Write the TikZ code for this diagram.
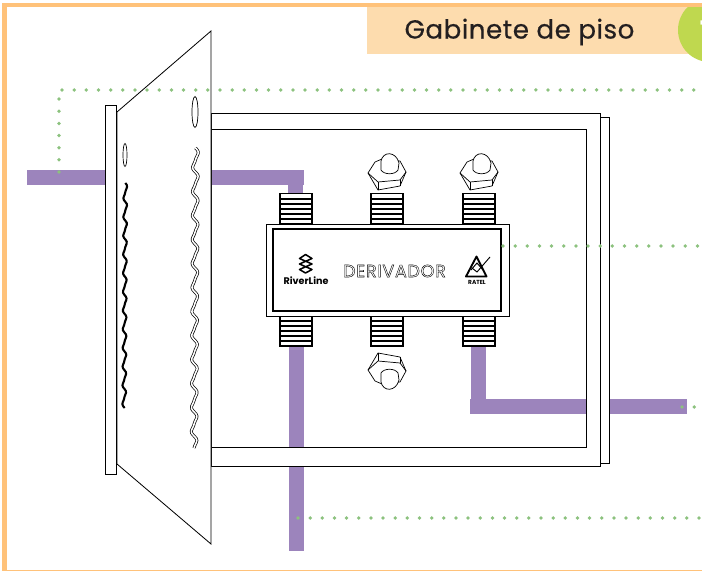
\documentclass[tikz,border=0pt]{standalone}
\usepackage{fontspec}
\setmainfont{Poppins}
\definecolor{orangeline}{HTML}{FFC27A}
\definecolor{titleback}{HTML}{FDDCAE}
\definecolor{tabgreen}{HTML}{BFD84F}
\definecolor{cablepurple}{HTML}{9C84BC}
\definecolor{dotgreen}{HTML}{8CC27E}
\definecolor{titletext}{HTML}{231F20}
\tikzset{
  cable/.style={fill=cablepurple,draw=none},
  dotline/.style={dotgreen,line width=3.2pt,line cap=round,dash pattern=on 0pt off 10.37pt},
  plate/.style={draw=black,fill=white,line width=0.7pt},
  thread/.style={draw=black,line width=1.2pt,fill=white},
  slotline/.style={draw=black,line width=0.6pt,double=white,double distance=1.3pt}
}
\begin{document}
\begin{tikzpicture}[x=0.03cm,y=-0.03cm]
  \useasboundingbox (0,0) rectangle (702,571);
  \begin{scope}
  \clip (0,0) rectangle (702,571);
  % border and title
  \fill[white] (0,0) rectangle (702,571);
  \fill[titleback] (367,7) rectangle (702,54);
  \fill[tabgreen] (710,30) circle (32);
  \fill[orangeline] (2,3) rectangle (702,7);
  \fill[white] (0,0) rectangle (702,3);
  \fill[orangeline] (2,3) rectangle (7,571);
  \fill[orangeline] (2,569.5) rectangle (702,571);
  \node[white,font=\fontsize{23}{23}\selectfont\bfseries] (tabnum) at (705,31) {1};
  \node[titletext,font=\fontsize{22.3}{24}\selectfont\addfontfeature{LetterSpace=2,FakeBold=0.5}] (title) at (519.5,32) {Gabinete de piso};
  % cables
  \fill[cable] (27,170) rectangle (304,185);
  \fill[cable] (288,170) rectangle (303,200);
  \fill[cable] (289,340) rectangle (304,551);
  \fill[cable] (471,340) rectangle (486,414);
  \fill[cable] (470,399) rectangle (687,414);
  % cabinet
  \draw[plate,even odd rule] (211,113) rectangle (600,466) (211,129) rectangle (586,447);
  \draw[plate] (600,117) rectangle (609,463);
  % door
  \draw[plate] (105,105) rectangle (116,474);
  \draw[plate] (117,112) -- (211,31) -- (211,544) -- (117,464) -- cycle;
  \draw[line width=1.2pt] (116.5,112) -- (116.5,464);
  \draw[line width=0.6pt] (125,155) ellipse (2 and 11.5);
  \draw[line width=0.6pt] (195,112) ellipse (3 and 15.5);
  \draw[line width=1.8pt,domain=183:408,samples=120,variable=\t,smooth] plot ({125.3-0.005*(\t-183)+1.6*sin((\t-183)/18.7*360)+0.5*sin((\t-183)/18.7*720)},\t);
  \draw[slotline,domain=148:448,samples=160,variable=\t,smooth] plot ({195.5-0.005*(\t-148)+2.5*sin((\t-148)/24*360)+0.7*sin((\t-148)/24*720)},\t);
  % threads
  \foreach \x in {280,371,463} {
    \draw[thread] (\x,193.5) rectangle (\x+32,224);
    \draw[thread] (\x,316) rectangle (\x+32,346);
    \foreach \y in {199,204,209,214,219} \draw[line width=1.4pt] (\x,\y) -- (\x+32,\y);
    \foreach \y in {321,326,331,336,341} \draw[line width=1.4pt] (\x,\y) -- (\x+32,\y);
  }
  % nuts
  \foreach \x/\y/\s in {387/172/1,479/172/1,387/371/-1} {
    \begin{scope}[shift={(\x,\y)},yscale=\s]
      \draw[plate,line width=0.6pt,line join=round] (-19,1) -- (-12,-10) -- (-5,-13) -- (13,-11) -- (19,0) -- (13,14) -- (-9,18) -- cycle;
      \draw[line width=0.6pt] (-19,1) -- (-9,10) -- (13,8) -- (19,0);
      \draw[line width=0.6pt] (-9,10) -- (-9,18);
      \draw[line width=0.6pt] (13,8) -- (13,14);
      \draw[plate,line width=0.6pt] (-6,-2) -- (-6,-11) .. controls (-4,-21) and (9,-21) .. (12,-9) -- (11,-2) .. controls (8,3) and (-3,3) .. (-6,-2) -- cycle;
    \end{scope}
  }
  % splitter body
  \draw[plate,line width=0.8pt] (266,224) rectangle (509,316);
  \draw[plate,line width=1.1pt] (273,229) rectangle (501,311);
  \node[font=\fontsize{15}{16}\selectfont\addfontfeature{LetterSpace=4}] (devname) at (394.5,271) {\special{pdf:code 1 Tr 0.35 w}DERIVADOR\special{pdf:code 0 Tr}};
  % logos
  \draw[line width=1.3pt,line join=round] (305.5,254.5) -- (312,258.5) -- (299.5,264) -- (312,269.5) -- (305.5,273) -- (299.5,269.5) -- (312,264) -- (299.5,258.5) -- cycle;
  \node[font=\fontsize{8.2}{9}\selectfont\bfseries,inner sep=0pt] (riverline) at (306,281) {RiverLine};
  \draw[line width=1.6pt,line join=round] (476.5,256.5) -- (486.5,276.5) -- (466,276.5) -- cycle;
  \draw[line width=0.8pt] (471,270) -- (477,263) -- (483,270);
  \draw[line width=0.8pt] (472,268) -- (477,272) -- (490,257);
  \node[font=\fontsize{5}{5}\selectfont\bfseries,inner sep=0pt] (brand) at (477,282) {RATEL};
  % dotted leaders
  \coordinate (leadA) at (59,172);
  \coordinate (leadB) at (59,90);
  \coordinate (leadC) at (703,90);
  \coordinate (leadD) at (503,246);
  \coordinate (leadE) at (703,246);
  \coordinate (leadF) at (298,518);
  \coordinate (leadG) at (703,518);
  \coordinate (leadH) at (682,407);
  \coordinate (leadI) at (703,407);
  \draw[dotline] (leadA) -- (leadB) -- (leadC);
  \draw[dotline] (leadD) -- (leadE);
  \draw[dotline] (leadF) -- (leadG);
  \draw[dotline] (leadH) -- (leadI);
  \end{scope}
\end{tikzpicture}
\end{document}
